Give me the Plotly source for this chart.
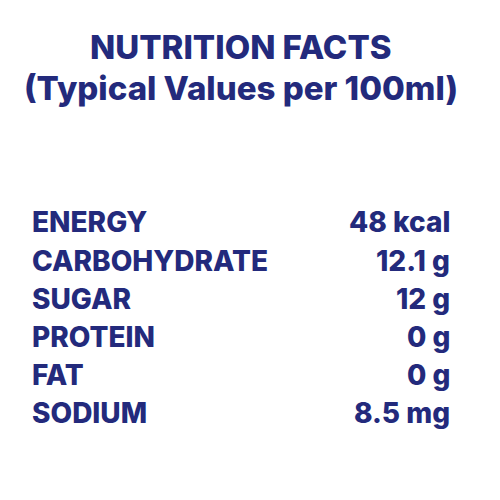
import plotly.graph_objects as go

title_lines = ['NUTRITION FACTS', '(Typical Values per 100ml)']
nutrients = ['ENERGY', 'CARBOHYDRATE', 'SUGAR', 'PROTEIN', 'FAT', 'SODIUM']
amounts = ['48 kcal', '12.1 g', '12 g', '0 g', '0 g', '8.5 mg']

navy = '#232a7c'
font = dict(family='Inter', size=28, color=navy, weight=800)

fig = go.Figure()
ann = []
title_y = [39, 80]
for t, y in zip(title_lines, title_y):
    ann.append(dict(text=t, x=0.482, y=1 - y / 484, xref='paper', yref='paper',
                    xanchor='center', yanchor='middle', showarrow=False,
                    font=dict(family='Inter', size=33, color=navy, weight=800)))

row_y = [214, 253, 291, 329, 367, 405]
for name, val, y in zip(nutrients, amounts, row_y):
    ann.append(dict(text=name, x=22 / 484, y=1 - y / 484, xref='paper', yref='paper',
                    xanchor='left', yanchor='middle', showarrow=False, font=font))
    ann.append(dict(text=val, x=444 / 484, y=1 - y / 484, xref='paper', yref='paper',
                    xanchor='right', yanchor='middle', showarrow=False, font=font))

fig.update_layout(width=484, height=484, margin=dict(l=0, r=0, t=0, b=0),
                  paper_bgcolor='white', plot_bgcolor='white',
                  xaxis=dict(visible=False), yaxis=dict(visible=False),
                  annotations=ann)
fig.write_html('out.html')
